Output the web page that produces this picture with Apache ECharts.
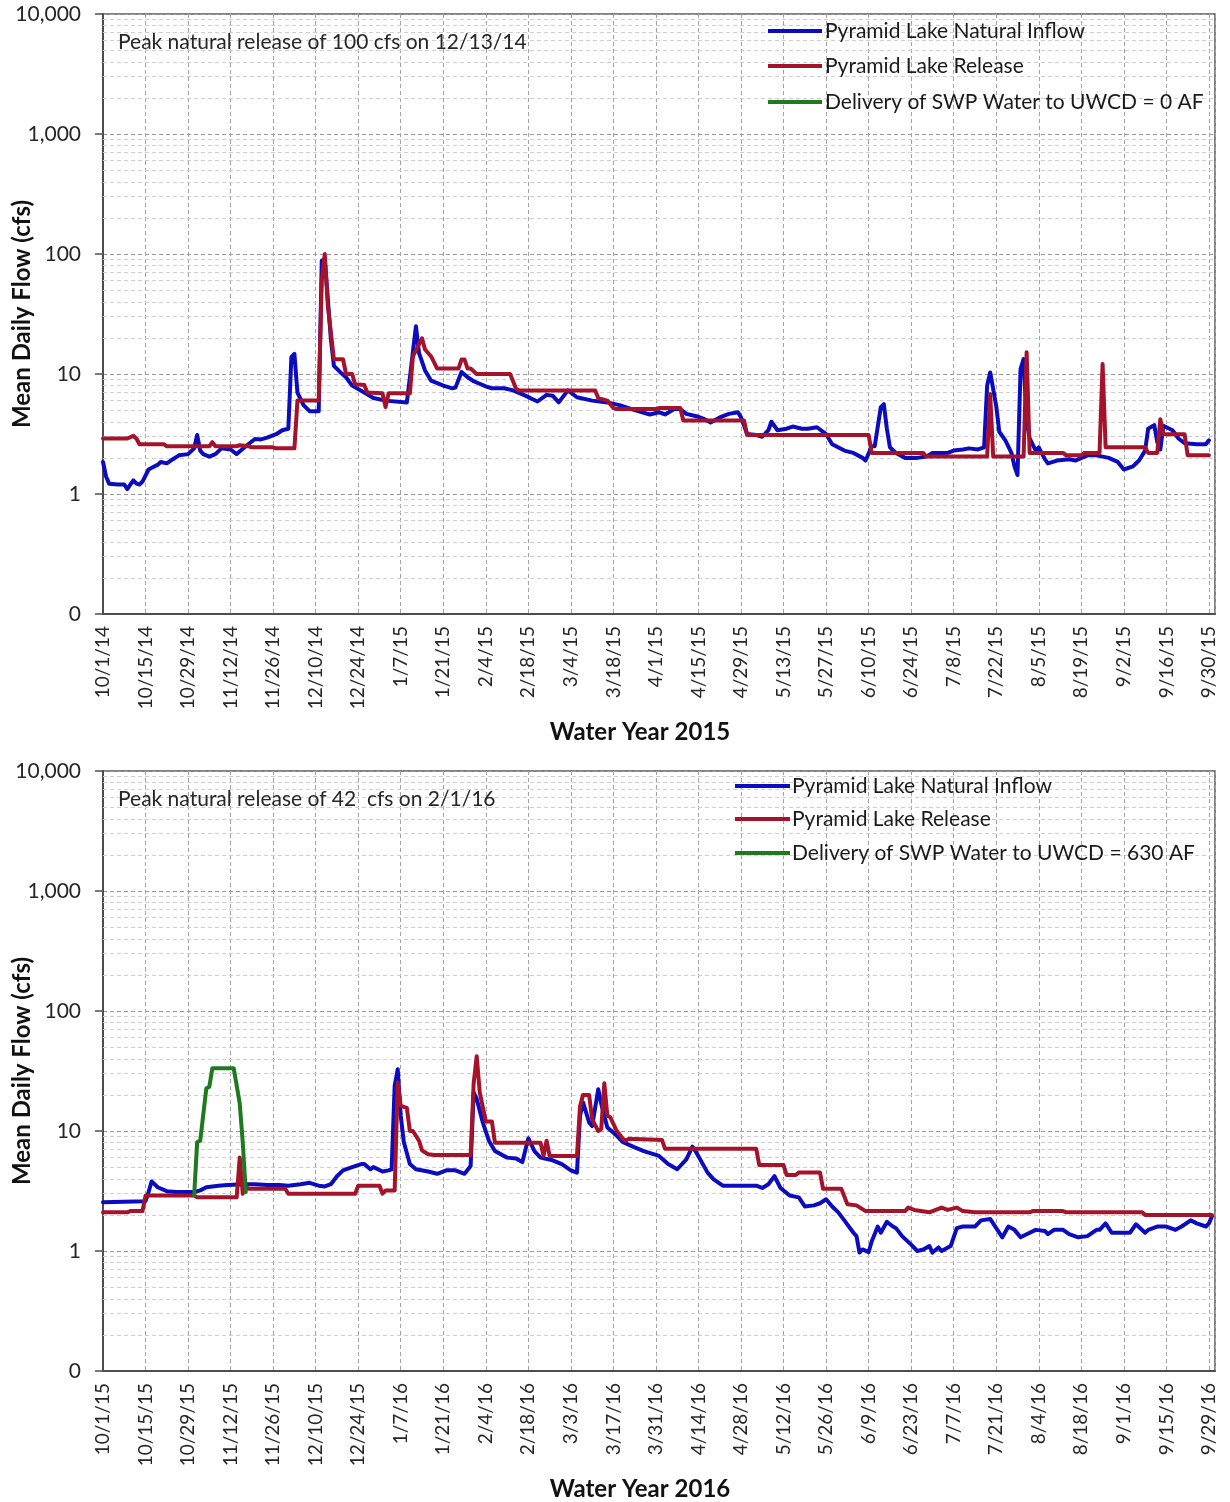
<!DOCTYPE html>
<html>
<head>
<meta charset="utf-8">
<title>Pyramid Lake Natural Inflow and Release, Water Years 2015-2016</title>
<script src="https://cdn.jsdelivr.net/npm/echarts@6/dist/echarts.min.js"></script>
<style>
  html, body { margin: 0; padding: 0; background: #ffffff; }
  #chart { width: 1230px; height: 1502px; }
</style>
</head>
<body>
<div id="chart"></div>
<script>
// Mean daily flow (cfs), as [day of water year, value]; day 0 = October 1.

// Water Year 2015
const inflow2015 = [
  [0,1.85],[1,1.4],[2,1.22],[5,1.2],[7,1.2],[8,1.1],[9,1.2],[10,1.3],[11,1.22],[12,1.2],[13,1.27],
  [15,1.6],[17,1.7],[18,1.75],[19,1.85],[21,1.8],[23,1.95],[25,2.1],[28,2.15],[30,2.4],[31,3.1],
  [32,2.3],[33,2.15],[35,2.05],[37,2.15],[39,2.4],[42,2.35],[44,2.15],[47,2.5],[50,2.87],[52,2.85],
  [54,2.95],[57,3.15],[59,3.4],[61,3.5],[62,13.8],[63,14.7],[64,7.0],[66,5.5],[68,4.9],[71,4.9],
  [72,88],[73,90],[75,19.6],[76,11.7],[78,10.4],[80,9.4],[82,8.0],[86,7.0],[89,6.3],[93,6.0],
  [100,5.8],[101,9.3],[103,25],[104,15],[106,10.7],[108,8.8],[112,8.0],[115,7.6],[116,7.7],[118,10.4],
  [120,9.4],[122,8.7],[126,7.9],[128,7.6],[132,7.6],[135,7.3],[139,6.6],[143,5.9],[146,6.7],[148,6.6],
  [150,5.8],[153,7.3],[156,6.4],[161,6.0],[166,5.8],[170,5.5],[175,5.0],[180,4.6],[183,4.8],[185,4.6],
  [188,5.1],[190,5.1],[192,4.65],[196,4.4],[198,4.2],[200,3.95],[203,4.35],[206,4.65],[209,4.8],[210,4.35],
  [212,3.16],[215,3.1],[217,3.0],[219,3.4],[220,4.0],[222,3.4],[225,3.5],[227,3.65],[230,3.5],[232,3.5],
  [235,3.6],[238,3.15],[240,2.6],[244,2.3],[247,2.2],[250,2.0],[251,1.9],[253,2.5],[254,2.5],[256,5.3],
  [257,5.6],[258,3.5],[259,2.45],[261,2.2],[264,2.0],[266,2.0],[268,2.0],[271,2.05],[273,2.2],[276,2.2],
  [278,2.2],[280,2.3],[283,2.35],[285,2.4],[288,2.35],[290,2.45],[291,8.0],[292,10.3],[294,5.4],[295,3.3],
  [297,2.8],[299,2.2],[300,1.7],[301,1.44],[302,11],[303,13.3],[304,4.0],[305,2.9],[307,2.3],[308,2.45],
  [310,1.95],[311,1.8],[314,1.9],[318,1.95],[320,1.9],[324,2.1],[327,2.1],[331,2.0],[334,1.85],[336,1.6],
  [339,1.7],[341,1.9],[343,2.3],[344,3.5],[346,3.75],[347,2.7],[348,2.35],[349,3.7],[352,3.4],[354,2.9],
  [356,2.65],[360,2.6],[363,2.6],[364,2.8]
];
const release2015 = [
  [0,2.9],[8,2.9],[10,3.05],[11,2.9],[12,2.6],[20,2.6],[21,2.5],[35,2.5],[36,2.7],[37,2.5],[44,2.5],
  [45,2.55],[48,2.5],[49,2.45],[56,2.45],[57,2.4],[63,2.4],[64,6.0],[71,6.0],[72,60],[73,100],[74,37],
  [76,13.3],[79,13.3],[80,10],[82,10],[83,8.2],[86,8.1],[87,7.0],[92,6.9],[93,5.3],[94,6.9],[101,6.9],
  [102,14],[105,19.8],[106,16],[108,14],[110,11.1],[117,11.1],[118,13.2],[119,13.2],[120,11.1],[121,11.1],
  [123,10],[134,10],[136,7.5],[137,7.3],[162,7.3],[163,6.3],[166,6.0],[168,5.2],[169,5.1],[182,5.1],
  [183,5.2],[190,5.2],[191,4.1],[211,4.1],[212,3.1],[252,3.1],[253,2.2],[270,2.2],[271,2.05],[291,2.05],
  [292,6.8],[293,2.05],[303,2.05],[304,15.2],[305,2.2],[316,2.2],[317,2.1],[322,2.1],[323,2.2],[328,2.2],
  [329,12.1],[330,2.45],[343,2.45],[344,2.2],[347,2.2],[348,4.2],[349,3.15],[356,3.15],[357,2.1],[364,2.1]
];
const delivery2015 = [];

// Water Year 2016
const inflow2016 = [
  [0,2.55],[14,2.6],[15,3.1],[16,3.8],[18,3.4],[21,3.15],[24,3.1],[30,3.1],[32,3.2],[34,3.4],[38,3.5],
  [41,3.55],[46,3.6],[50,3.6],[54,3.55],[58,3.55],[61,3.5],[65,3.6],[68,3.7],[71,3.5],[73,3.45],[75,3.6],
  [77,4.2],[79,4.7],[82,5.0],[85,5.3],[86,5.3],[88,4.8],[89,5.0],[92,4.6],[94,4.7],[95,4.8],[96,23.8],
  [97,32.7],[98,13.4],[99,8.1],[101,5.3],[103,4.8],[107,4.6],[110,4.4],[113,4.7],[116,4.7],[119,4.4],
  [121,5.1],[122,21],[123,18.5],[125,11.8],[127,8.3],[129,6.8],[133,6.0],[136,5.9],[138,5.5],[140,8.7],
  [142,6.8],[144,6.0],[148,5.7],[151,5.3],[154,4.7],[156,4.5],[157,13.4],[158,17.3],[160,11.8],[161,11],
  [163,22.3],[164,16.8],[166,10.7],[169,9.2],[171,8.1],[175,7.3],[178,6.8],[183,6.2],[186,5.3],[189,4.8],
  [192,5.8],[194,7.4],[195,6.8],[199,4.5],[201,3.95],[204,3.5],[215,3.5],[217,3.35],[219,3.6],[221,4.2],
  [223,3.35],[226,2.9],[229,2.8],[231,2.35],[234,2.4],[236,2.5],[238,2.7],[240,2.35],[242,2.1],[244,1.8],
  [247,1.42],[248,1.33],[249,0.97],[250,1.03],[252,0.98],[253,1.2],[255,1.6],[256,1.42],[258,1.75],[260,1.6],
  [261,1.55],[263,1.33],[266,1.13],[268,1.0],[270,1.03],[272,1.1],[273,0.97],[275,1.07],[276,1.0],[279,1.1],
  [281,1.55],[283,1.6],[287,1.6],[289,1.8],[292,1.85],[294,1.55],[296,1.3],[298,1.6],[300,1.5],[302,1.3],
  [304,1.38],[307,1.5],[310,1.47],[311,1.38],[313,1.5],[316,1.5],[318,1.38],[321,1.3],[324,1.33],[327,1.5],
  [328,1.5],[330,1.7],[332,1.42],[338,1.42],[340,1.67],[343,1.42],[344,1.5],[347,1.6],[350,1.6],[353,1.5],
  [355,1.6],[358,1.8],[360,1.7],[363,1.6],[364,1.7],[365,1.95]
];
const release2016 = [
  [0,2.1],[8,2.1],[9,2.15],[13,2.15],[14,2.9],[30,2.9],[31,2.8],[44,2.8],[45,6.0],[46,3.0],[47,3.4],
  [48,3.3],[60,3.3],[61,3.0],[83,3.0],[84,3.5],[91,3.5],[92,3.0],[93,3.2],[96,3.2],[97,25.4],[98,16.2],
  [100,15.6],[101,10],[102,10],[104,8.3],[105,6.9],[107,6.4],[109,6.3],[121,6.3],[122,25],[123,42],
  [124,21],[126,12],[128,12],[129,8],[144,8],[145,6.2],[146,8.3],[147,6.2],[156,6.2],[157,16],[158,20],
  [160,20],[161,12.5],[163,10],[164,10.4],[165,25],[166,13.4],[167,13],[169,10.1],[171,8.7],[172,8.3],
  [173,8.6],[184,8.4],[185,7.1],[215,7.1],[216,5.2],[224,5.2],[225,4.3],[228,4.3],[229,4.5],[236,4.5],
  [237,3.3],[243,3.3],[245,2.45],[248,2.4],[251,2.15],[264,2.15],[265,2.3],[267,2.2],[272,2.1],[276,2.3],
  [278,2.2],[281,2.3],[283,2.15],[287,2.1],[305,2.1],[306,2.15],[316,2.15],[317,2.1],[342,2.1],[343,2.0],
  [365,2.0]
];
const delivery2016 = [
  [30,2.9],[31,8.1],[32,8.3],[34,22.6],[35,23.4],[36,33.4],[43,33.4],[44,24],[45,17],[46,8],[47,3.1]
];

// Axis and label text
const waterYearTitles = ['Water Year 2015', 'Water Year 2016'];
const waterYearStarts = [[2014, 9, 1], [2015, 9, 1]];   // Oct 1 (JS month index 9)
const peakNotes = ['Peak natural release of 100 cfs on 12/13/14', 'Peak natural release of 42  cfs on 2/1/16'];
const inflowName = 'Pyramid Lake Natural Inflow';
const releaseName = 'Pyramid Lake Release';
const deliveryNames = ['Delivery of SWP Water to UWCD = 0 AF', 'Delivery of SWP Water to UWCD = 630 AF'];
const yAxisTitle = 'Mean Daily Flow (cfs)';

const BLUE = '#0b0cc0';
const RED = '#a5132b';
const GREEN = '#1f7a1f';
const FONT = 'Lato';

function dayLabel(start, d) {
  const t = new Date(Date.UTC(start[0], start[1], start[2]) + Math.round(d) * 86400000);
  return (t.getUTCMonth() + 1) + '/' + t.getUTCDate() + '/' + String(t.getUTCFullYear()).slice(2);
}

// Log-scale minor gridlines at 2..9 within each decade
const minorLevels = [];
[0.1, 1, 10, 100, 1000].forEach(dec => {
  for (let k = 2; k <= 9; k++) minorLevels.push(+(k * dec).toPrecision(3));
});

const gridTops = [14, 771];
// key block: line start/end x, text x, row centre y's
const keyLayout = [
  { x1: 768, x2: 822, tx: 825, rows: [31, 66, 102] },
  { x1: 735, x2: 790, tx: 792, rows: [786, 819, 853] }
];

const grids = [], xAxes = [], yAxes = [], series = [], graphics = [];

[0, 1].forEach(i => {
  grids.push({
    left: 103, top: gridTops[i], width: 1112, height: 600,
    containLabel: false, outerBoundsMode: 'none',
    show: true, borderColor: '#595959', borderWidth: 1.5, backgroundColor: 'transparent'
  });
  xAxes.push({
    type: 'value', gridIndex: i, min: 0, max: 366, interval: 14,
    axisLine: { show: true, onZero: false, lineStyle: { color: '#4d4d4d', width: 2 } },
    axisTick: { show: false },
    axisLabel: {
      rotate: 90, fontFamily: FONT, fontSize: 19, color: '#262626', margin: 12,
      formatter: v => (v > 364.5 ? '' : dayLabel(waterYearStarts[i], v))
    },
    splitLine: { show: true, lineStyle: { color: '#a3a3a3', type: [4, 3], width: 1 } },
    name: waterYearTitles[i], nameLocation: 'middle', nameGap: 106, nameMoveOverlap: false,
    nameTextStyle: { fontFamily: FONT, fontWeight: 'bold', fontSize: 24, color: '#111', padding: [0, 38, 0, 0] }
  });
  yAxes.push({
    type: 'log', gridIndex: i, logBase: 10, min: 0.1, max: 10000,
    axisLine: { show: true, lineStyle: { color: '#4d4d4d', width: 2 } },
    axisTick: { show: true, length: 8, lineStyle: { color: '#4d4d4d', width: 1.5 } },
    axisLabel: {
      fontFamily: FONT, fontSize: 21, color: '#262626', margin: 22,
      formatter: v => (v < 0.5 ? '0' : Math.round(v).toLocaleString('en-US'))
    },
    splitLine: { show: true, lineStyle: { color: '#9a9a9a', type: [4, 3], width: 1 } },
    name: yAxisTitle, nameLocation: 'middle', nameGap: 69, nameMoveOverlap: false,
    nameTextStyle: { fontFamily: FONT, fontWeight: 'bold', fontSize: 24, color: '#111' }
  });

  // minor gridlines, kept beneath the flow lines
  series.push({
    type: 'line', xAxisIndex: i, yAxisIndex: i, data: [], z: 1, silent: true,
    markLine: {
      silent: true, symbol: 'none', animation: false, z: 1,
      label: { show: false },
      lineStyle: { color: '#cfcfcf', type: [4, 3], width: 1 },
      data: minorLevels.map(v => ({ yAxis: v }))
    }
  });

  const inflow = i === 0 ? inflow2015 : inflow2016;
  const release = i === 0 ? release2015 : release2016;
  const delivery = i === 0 ? delivery2015 : delivery2016;
  const lineCommon = { type: 'line', xAxisIndex: i, yAxisIndex: i, showSymbol: false, symbol: 'none', animation: false };
  const entries = [
    { name: inflowName, data: inflow, color: BLUE, z: 3 },
    { name: releaseName, data: release, color: RED, z: 4 },
    { name: deliveryNames[i], data: delivery, color: GREEN, z: 5 }
  ];
  entries.forEach((e, k) => {
    series.push(Object.assign({}, lineCommon, {
      name: e.name, data: e.data, z: e.z,
      lineStyle: { color: e.color, width: 4, join: 'round', cap: 'round' }, itemStyle: { color: e.color }
    }));
    const L = keyLayout[i];
    const y = L.rows[k];
    graphics.push({
      type: 'line', silent: true, z: 10,
      shape: { x1: L.x1, y1: y, x2: L.x2, y2: y },
      style: { stroke: e.color, lineWidth: 4 }
    });
    graphics.push({
      type: 'text', silent: true, z: 10, x: L.tx, y: y,
      style: { text: e.name, font: '21px Lato', fill: '#1a1a1a', verticalAlign: 'middle', align: 'left' }
    });
  });

  graphics.push({
    type: 'text', silent: true, z: 10, x: 118, y: gridTops[i] + 28,
    style: { text: peakNotes[i], font: '21px Lato', fill: '#262626', verticalAlign: 'middle', align: 'left' }
  });
});

const chart = echarts.init(document.getElementById('chart'), null, { renderer: 'canvas' });
chart.setOption({
  animation: false,
  backgroundColor: '#ffffff',
  grid: grids,
  xAxis: xAxes,
  yAxis: yAxes,
  graphic: graphics,
  series: series
});
</script>
</body>
</html>
